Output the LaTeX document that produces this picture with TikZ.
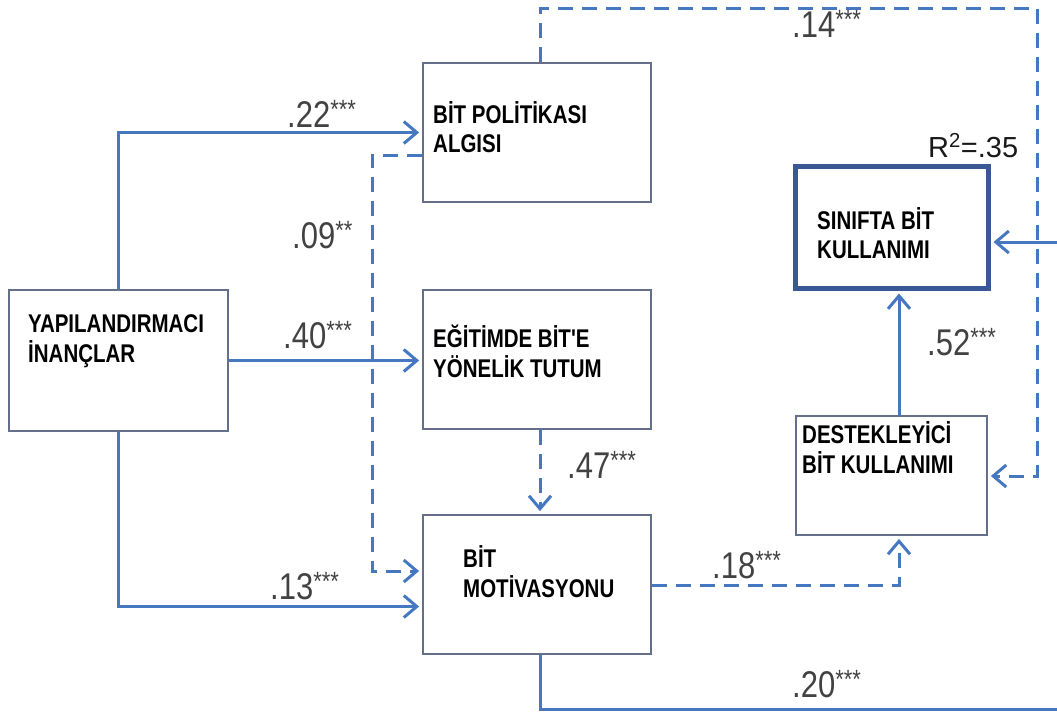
\documentclass[tikz,border=0pt]{standalone}
\usepackage{fontspec}
\setmainfont{Liberation Sans}
\usepackage{graphicx}
\usetikzlibrary{arrows.meta,calc}
\definecolor{lineblue}{RGB}{70,120,194}
\definecolor{boxgray}{RGB}{100,112,138}
\definecolor{thickblue}{RGB}{58,88,148}
\definecolor{labgray}{RGB}{66,66,66}
\newcommand\boxtxt[1]{\scalebox{1}[1.25]{\fontsize{20.5}{23.2}\selectfont\bfseries\begin{tabular}[t]{@{}l@{}}#1\end{tabular}}}
\newcommand\coef[1]{\scalebox{1}[1.2]{\fontsize{31}{31}\selectfont #1}}
\newcommand\stars[1]{\raisebox{0.22em}{\fontsize{22}{22}\selectfont #1}}
\begin{document}
\begin{tikzpicture}[x=1pt,y=-1pt,
  box/.style={draw=boxgray,line width=1.8pt,fill=white,inner sep=0pt},
  thickbox/.style={draw=thickblue,line width=5pt,fill=white,inner sep=0pt},
  btext/.style={anchor=base west,inner sep=0pt,text=black},
  coeflab/.style={anchor=base west,inner sep=0pt,text=labgray},
  solidarrow/.style={draw=lineblue,line width=3pt,-{Straight Barb[length=13pt,width=22pt]},shorten >=3pt},
  dasharrow/.style={draw=lineblue,line width=3pt,dash pattern=on 15pt off 9pt,-{Straight Barb[length=13pt,width=22pt]},shorten >=3pt}]
\useasboundingbox[fill=white] (0,0) rectangle (1057,716);

% boxes
\node[box,minimum width=219pt,minimum height=141pt] (yap) at (118.5,360.5) {};
\node[box,minimum width=228pt,minimum height=139pt] (pol) at (537,132.5) {};
\node[box,minimum width=228pt,minimum height=139pt] (egi) at (537,359.5) {};
\node[box,minimum width=228pt,minimum height=139pt] (mot) at (537,584.5) {};
\node[thickbox,minimum width=193pt,minimum height=122pt] (sin) at (891.5,227) {};
\node[box,minimum width=191pt,minimum height=119pt] (des) at (891.5,475.5) {};

% box texts
\node[btext] (tyap) at (28,332) {\boxtxt{YAPILANDIRMACI\\İNANÇLAR}};
\node[btext] (tpol) at (433,123) {\boxtxt{BİT POLİTİKASI\\ALGISI}};
\node[btext] (tegi) at (433,347) {\boxtxt{EĞİTİMDE BİT\textquotesingle E\\YÖNELİK TUTUM}};
\node[btext] (tmot) at (463,567) {\boxtxt{BİT\\MOTİVASYONU}};
\node[btext] (tsin) at (817,229) {\boxtxt{SINIFTA BİT\\KULLANIMI}};
\node[btext] (tdes) at (802,443) {\boxtxt{DESTEKLEYİCİ\\BİT KULLANIMI}};

% connectors
\draw[solidarrow] (yap.north) |- (pol.west);
\draw[solidarrow] (yap.east) -- (yap.east -| egi.west);
\draw[solidarrow] (yap.south) |- ($(mot.west)+(0,22)$);
\draw[dasharrow] ($(pol.west)+(0,22.5)$) -- ++(-50,0) |- ($(mot.west)+(0,-13.5)$);
\draw[dasharrow] ($(egi.south)+(3,0)$) -- ($(mot.north)+(3,0)$);
\draw[dasharrow] ($(mot.east)+(0,0.5)$) -| ($(des.south)+(7.5,0)$);
\draw[solidarrow] ($(des.north)+(7.5,0)$) -- ($(sin.south)+(7.5,0)$);
\draw[dasharrow] ($(pol.north)+(3,0)$) |- (1037,8) |- ($(des.east)+(0,0.5)$);
\draw[solidarrow] ($(mot.south)+(3,0)$) |- (1062,709) |- ($(sin.east)+(0,15)$);

% coefficients
\node[coeflab] (c22) at (287,127) {\coef{.22\stars{***}}};
\node[coeflab] (c09) at (292,248) {\coef{.09\stars{**}}};
\node[coeflab] (c40) at (283,348) {\coef{.40\stars{***}}};
\node[coeflab] (c13) at (270,599) {\coef{.13\stars{***}}};
\node[coeflab] (c47) at (567,478) {\coef{.47\stars{***}}};
\node[coeflab] (c18) at (712,578) {\coef{.18\stars{***}}};
\node[coeflab] (c52) at (927,355) {\coef{.52\stars{***}}};
\node[coeflab] (c14) at (792,37) {\coef{.14\stars{***}}};
\node[coeflab] (c20) at (792,697) {\coef{.20\stars{***}}};
\node[anchor=base west,inner sep=0pt,text=black!90] (r2) at (928,157) {\fontsize{29}{29}\selectfont R\textsuperscript{2}=.35};
\end{tikzpicture}
\end{document}
